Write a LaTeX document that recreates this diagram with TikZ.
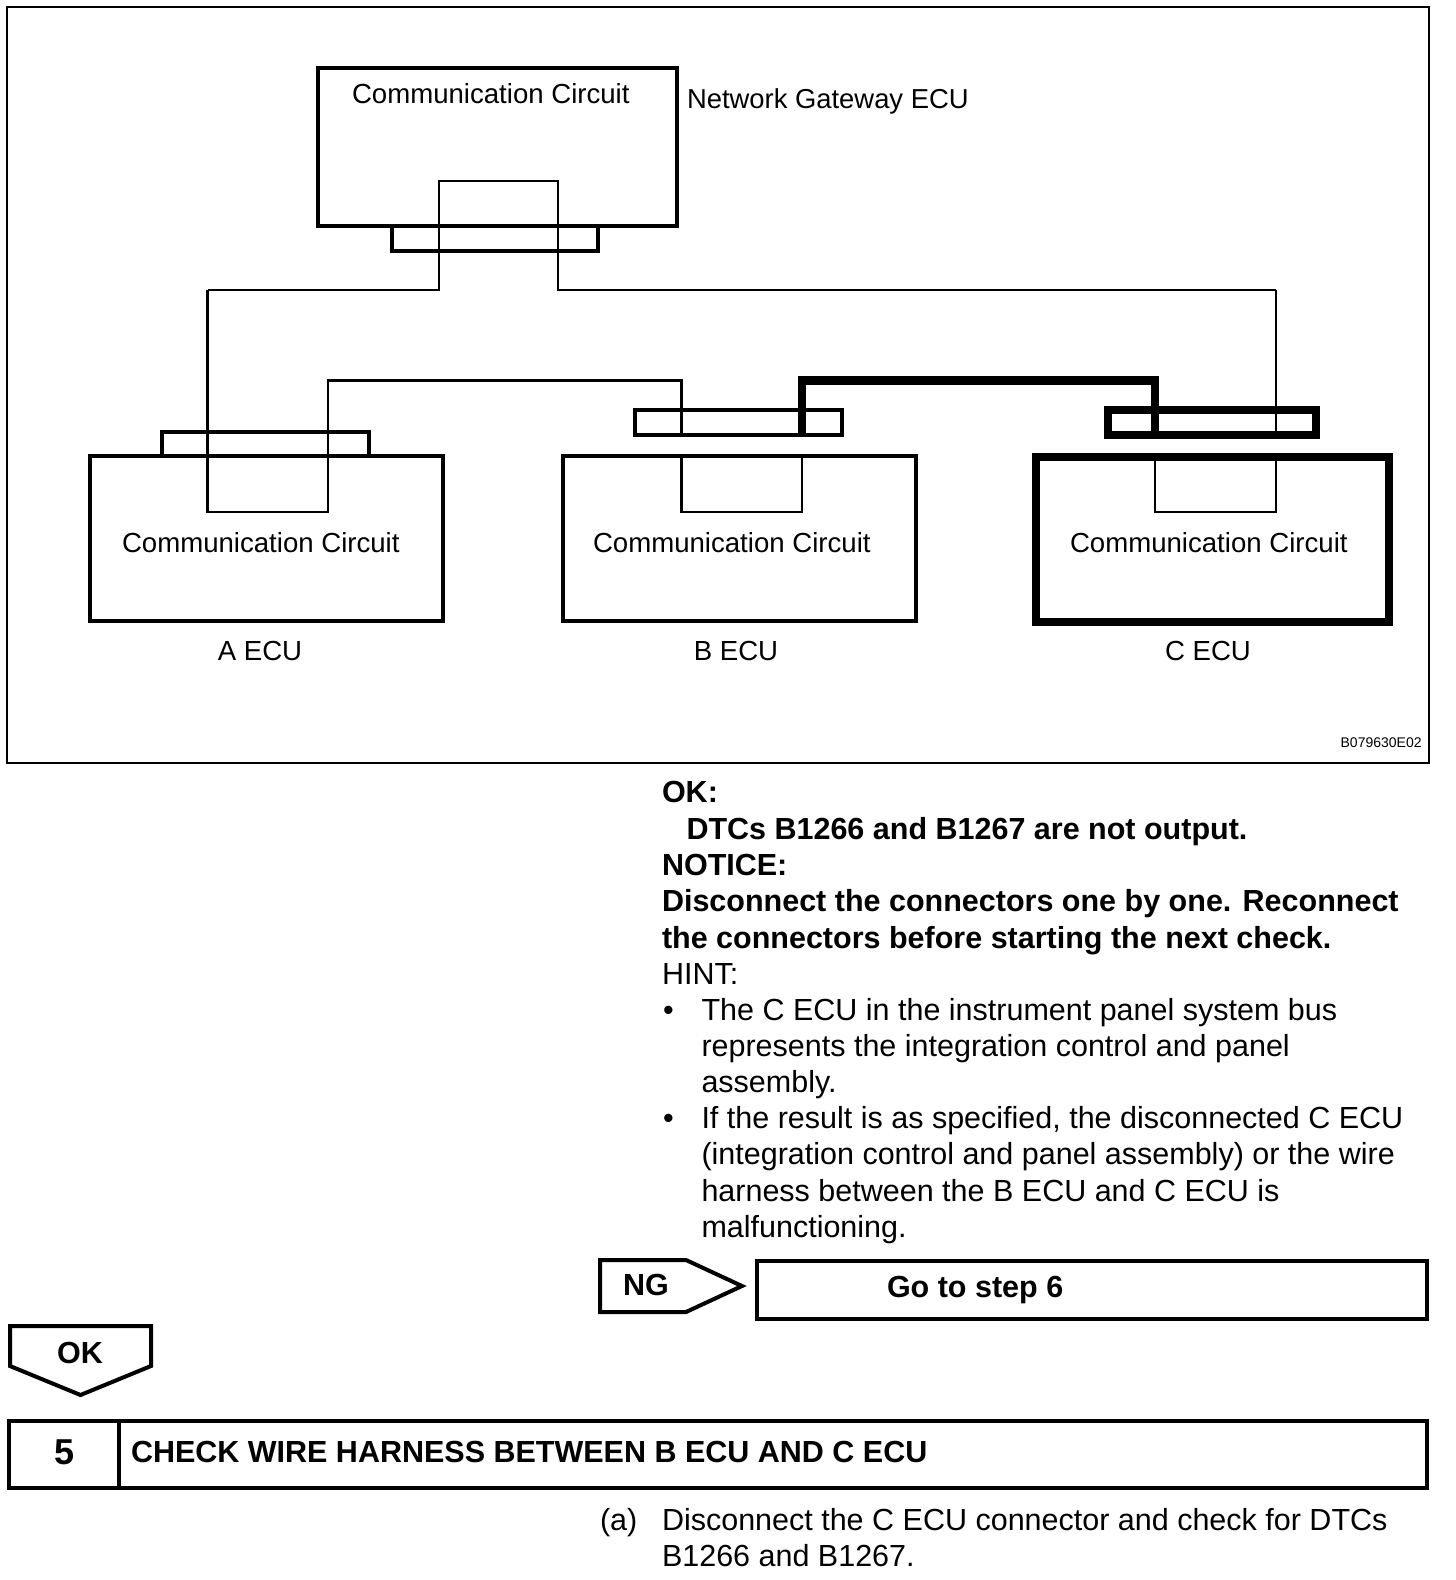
\documentclass[tikz,border=0pt]{standalone}
\usepackage{fontspec}
\setmainfont{Liberation Sans}
\tikzset{
 ecubox/.style={draw,inner sep=0pt,outer sep=0pt,line width=2pt,fill=white},
 conbox/.style={draw,inner sep=0pt,outer sep=0pt,line width=1.8pt},
 wire/.style={line width=1.45pt,line join=miter},
 thinwire/.style={line width=1.1pt},
 heavy/.style={line width=4.2pt,line cap=butt,line join=miter},
 lbl/.style={inner sep=0pt,outer sep=0pt,anchor=base west,font=\fontsize{13.8}{17}\selectfont},
 ctr/.style={lbl,anchor=base},
 body/.style={inner sep=0pt,outer sep=0pt,anchor=base west,font=\fontsize{15.25}{18}\selectfont},
 bbody/.style={inner sep=0pt,outer sep=0pt,anchor=base west,font=\fontsize{15.25}{18}\selectfont\bfseries},
 outline/.style={draw,line width=2pt,line join=miter},
}
\begin{document}
\begin{tikzpicture}[x=0.5pt,y=-0.5pt]
\useasboundingbox (0,0) rectangle (1456,1580);
\fill[white] (0,0) rectangle (1456,1580);
\node[draw,line width=1pt,inner sep=0pt,outer sep=0pt,minimum width=711pt,minimum height=378pt] (frame) at (717.5,385) {};
% boxes
\node[ecubox,minimum width=179.5pt,minimum height=79pt] (gw) at (497.5,147) {};
\node[conbox,minimum width=103pt,minimum height=12.5pt] (gwc) at (495,238.5) {};
\node[ecubox,minimum width=176.5pt,minimum height=82.5pt] (aecu) at (266.5,538.5) {};
\node[conbox,minimum width=103.5pt,minimum height=12pt] (ac) at (265.5,444) {};
\node[ecubox,minimum width=176.5pt,minimum height=82.5pt] (becu) at (739.5,538.5) {};
\node[conbox,minimum width=103.5pt,minimum height=12.5pt] (bc) at (738.5,422.5) {};
\node[ecubox,line width=4.3pt,minimum width=176.5pt,minimum height=82.5pt] (cecu) at (1212.5,539.5) {};
\node[conbox,line width=4.3pt,minimum width=104pt,minimum height=12.5pt] (cc) at (1212,422.5) {};
% wire routing points
\coordinate (p1) at (439,181); \coordinate (p2) at (558,181);
\coordinate (p3) at (439,290); \coordinate (p4) at (558,290);
\coordinate (p5) at (207.5,290); \coordinate (p6) at (1276,290);
\coordinate (p7) at (1276,435);
\coordinate (a1) at (207.5,512); \coordinate (a2) at (328,512);
\coordinate (a3) at (328,380.5); \coordinate (a4) at (681.5,380.5);
\coordinate (a5) at (681.5,435);
\coordinate (b1) at (681.5,458); \coordinate (b2) at (681.5,512); \coordinate (b3) at (802,512); \coordinate (b4) at (802,458);
\coordinate (b5) at (802,434); \coordinate (b6) at (802,380.5); \coordinate (c1) at (1155,380.5); \coordinate (c2) at (1155,434);
\coordinate (c3) at (1155,459); \coordinate (c4) at (1155,512); \coordinate (c5) at (1276,512); \coordinate (c6) at (1276,459);
\draw[wire] (p5) -- (p3) -- (p1) -- (p2) -- (p4) -- (p6);
\draw[thinwire] (p6) -- (p7);
\draw[wire] (p5) -- (a1) -- (a2) -- (a3) -- (a4) -- (a5);
\draw[wire] (b1) -- (b2) -- (b3) -- (b4);
\draw[wire] (c3) -- (c4) -- (c5) -- (c6);
\draw[heavy] (b5) -- (b6) -- (c1) -- (c2);
% diagram labels
\node[lbl] (t1) at (352,103) {Communication Circuit};
\node[lbl,font=\fontsize{13.7}{17}\selectfont] (t2) at (687,108.5) {Network Gateway ECU};
\node[lbl] (t3) at (122,552) {Communication Circuit};
\node[lbl] (t4) at (593,552) {Communication Circuit};
\node[lbl] (t5) at (1070,552) {Communication Circuit};
\node[ctr] (t6) at (260,660) {A ECU};
\node[ctr] (t7) at (736,660) {B ECU};
\node[ctr] (t8) at (1208,660) {C ECU};
\node[inner sep=0pt,anchor=base east,font=\fontsize{7}{8}\selectfont] (code) at (1422,747) {B079630E02};
% body text
\node[bbody] (l1) at (662,802) {OK:};
\node[bbody] (l2) at (686.5,839) {DTCs B1266 and B1267 are not output.};
\node[bbody] (l3) at (662,875) {NOTICE:};
\node[bbody] (l4) at (662,911) {Disconnect the connectors one by one. Reconnect};
\node[bbody] (l5) at (662,948) {the connectors before starting the next check.};
\node[body] (l6) at (662,984) {HINT:};
\node[body] (d1) at (663,1020) {•};
\node[body] (l7) at (701.5,1020) {The C ECU in the instrument panel system bus};
\node[body] (l8) at (701.5,1056) {represents the integration control and panel};
\node[body] (l9) at (701.5,1092) {assembly.};
\node[body] (d2) at (663,1128) {•};
\node[body] (l10) at (701.5,1128) {If the result is as specified, the disconnected C ECU};
\node[body] (l11) at (701.5,1164) {(integration control and panel assembly) or the wire};
\node[body] (l12) at (701.5,1201) {harness between the B ECU and C ECU is};
\node[body] (l13) at (701.5,1237) {malfunctioning.};
% NG / Go to
\draw[outline] (600,1260) -- (686,1260) -- (742,1286) -- (686,1312) -- (600,1312) -- cycle;
\node[bbody] (ng) at (623,1295) {NG};
\node[draw,line width=2pt,inner sep=0pt,outer sep=0pt,minimum width=335pt,minimum height=29pt] (go) at (1092,1290) {};
\node[bbody] (got) at (887,1297.5) {Go to step 6};
% OK
\draw[outline] (10,1326) -- (151,1326) -- (151,1366) -- (80.5,1395) -- (10,1366) -- cycle;
\node[bbody,anchor=base] (ok) at (80,1363) {OK};
% header
\node[draw,line width=2pt,inner sep=0pt,outer sep=0pt,minimum width=709pt,minimum height=33.5pt] (hdr) at (717.5,1454.5) {};
\coordinate (h1) at (119,1421.5); \coordinate (h2) at (119,1488);
\draw[line width=2pt] (h1) -- (h2);
\node[inner sep=0pt,anchor=base,font=\fontsize{18}{20}\selectfont\bfseries] (five) at (65,1464) {5};
\node[bbody] (chk) at (131,1462) {CHECK WIRE HARNESS BETWEEN B ECU AND C ECU};
\node[body] (a) at (600,1530) {(a)};
\node[body] (q1) at (662,1530) {Disconnect the C ECU connector and check for DTCs};
\node[body] (q2) at (662,1566) {B1266 and B1267.};
\end{tikzpicture}
\end{document}
